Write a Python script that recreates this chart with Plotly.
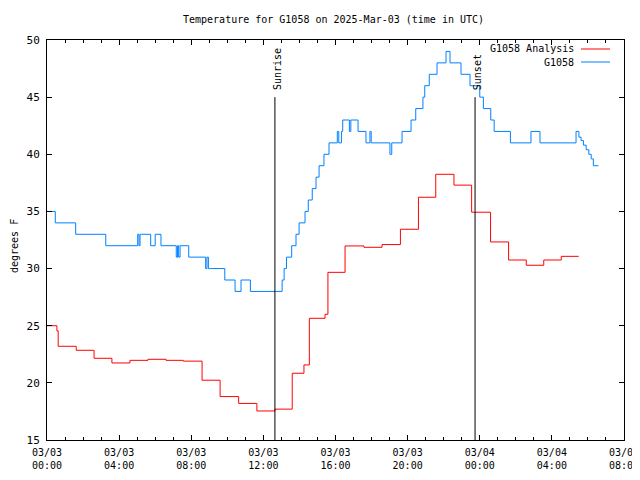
import pandas as pd
import plotly.graph_objects as go

# ---- data (hours after 2025-03-03 00:00 UTC, values in degrees F) ----
obs_hours = [0.0, 0.46, 1.59, 3.26, 5.03, 5.10, 5.16, 5.25, 5.75, 6.00, 6.32,
             7.17, 7.24, 7.30, 7.38, 7.86, 8.80, 8.87, 8.95, 9.06, 9.86, 10.43,
             10.76, 11.28, 13.04, 13.15, 13.28, 13.57, 13.81, 13.98, 14.31,
             14.49, 14.71, 14.92, 15.09, 15.36, 15.64, 16.10, 16.18, 16.33,
             16.40, 16.77, 16.85, 17.25, 17.69, 17.91, 17.98, 19.02, 19.12,
             19.69, 20.19, 20.45, 20.85, 20.95, 21.20, 21.63, 22.13, 22.35,
             22.96, 23.46, 24.00, 24.20, 24.61, 24.80, 25.70, 26.84, 27.34,
             29.34, 29.50, 29.62, 29.75, 29.90, 30.05, 30.18, 30.30, 30.58]
obs_values = [35, 34, 33, 32, 33, 32, 33, 33, 32, 33, 32,
              31, 32, 31, 32, 31, 30, 31, 30, 30, 29, 28,
              29, 28, 29, 30, 31, 32, 33, 34, 35,
              36, 37, 38, 39, 40, 41, 42, 41, 42,
              43, 42, 43, 42, 41, 42, 41, 40, 41,
              42, 43, 44, 45, 46, 47, 48, 49, 48,
              47, 46, 45, 44, 43, 42, 41, 42, 41,
              42, 41.5, 41.2, 40.8, 40.4, 40.0, 39.6, 39, 39]

ana_hours = [0.0, 0.55, 0.62, 1.62, 2.61, 3.60, 4.60, 5.60, 6.60, 7.56, 8.60,
             9.60, 10.63, 11.64, 12.64, 13.60, 14.25, 14.55, 15.42, 15.58,
             16.53, 17.58, 18.58, 19.60, 20.60, 21.56, 22.57, 23.55, 24.60,
             25.60, 26.58, 27.55, 28.52, 29.49]
ana_values = [25.0, 24.55, 23.2, 22.85, 22.15, 21.74, 21.97, 22.06, 21.97, 21.9, 20.23,
              18.8, 18.2, 17.54, 17.7, 20.84, 21.57, 25.65, 26.0, 29.67,
              31.98, 31.86, 32.1, 33.44, 36.24, 38.25, 37.3, 34.93, 32.33,
              30.75, 30.29, 30.75, 31.07, 31.07]

sun_hours = [12.64, 23.74]
sun_labels = ["Sunrise", "Sunset"]
sun_top = 45

start = pd.Timestamp("2025-03-03 00:00")
x_end = pd.Timestamp("2025-03-04 08:00")
tick_vals = pd.date_range(start, x_end, freq="4h")
tick_text = ["03/03<br>00:00", "03/03<br>04:00", "03/03<br>08:00", "03/03<br>12:00",
             "03/03<br>16:00", "03/03<br>20:00", "03/04<br>00:00", "03/04<br>04:00",
             "03/04<br>08:00"]
y_ticks = [15, 20, 25, 30, 35, 40, 45, 50]
series_names = ["G1058 Analysis", "G1058"]
series_colors = ["#ff0000", "#0080ff"]

FONT = "DejaVu Sans Mono"
OFF = 8                      # page body margin offset
SL, ST, SR, SB = 47, 40, 624, 440   # plot box in screen pixels
L, T = SL - OFF, ST - OFF
R, B = 640 - (SR - OFF), 480 - (SB - OFF)
PW, PH = SR - SL, SB - ST

def to_time(hours):
    return [start + pd.Timedelta(hours=h) for h in hours]

fig = go.Figure()
fig.add_trace(go.Scatter(x=to_time(ana_hours), y=ana_values, mode="lines",
                         line=dict(color=series_colors[0], width=1, shape="hv"),
                         name=series_names[0], showlegend=False))
fig.add_trace(go.Scatter(x=to_time(obs_hours), y=obs_values, mode="lines",
                         line=dict(color=series_colors[1], width=1, shape="hv"),
                         name=series_names[1], showlegend=False))

for h, lab in zip(sun_hours, sun_labels):
    t = start + pd.Timedelta(hours=h)
    fig.add_shape(type="line", x0=t, x1=t, y0=15, y1=sun_top, xref="x", yref="y",
                  line=dict(color="black", width=1))
    fig.add_annotation(x=t, y=sun_top, xref="x", yref="y", text=lab, textangle=-90,
                       showarrow=False, xanchor="center", yanchor="bottom",
                       xshift=2, yshift=5, font=dict(family=FONT, size=10, color="black"))

# gnuplot-style legend: text right-aligned, sample line on the right
for i, (nm, col) in enumerate(zip(series_names, series_colors)):
    ypx = 49 + 13 * i
    yp = 1 - (ypx - ST) / PH
    fig.add_annotation(x=(576 - SL) / PW, y=yp, xref="paper", yref="paper", text=nm,
                       showarrow=False, xanchor="right", yanchor="middle",
                       font=dict(family=FONT, size=10, color="black"))
    fig.add_shape(type="line", xref="paper", yref="paper",
                  x0=(581 - SL) / PW, x1=(610 - SL) / PW, y0=yp, y1=yp,
                  line=dict(color=col, width=1))

fig.add_annotation(x=0, y=0.5, xref="paper", yref="paper", text="degrees F",
                   textangle=-90, showarrow=False, xanchor="center", yanchor="middle",
                   xshift=-33, yshift=-6, font=dict(family=FONT, size=10, color="black"))

fig.add_annotation(x=(333 - SL) / PW, y=1 + 20 / PH, xref="paper", yref="paper",
                   text="Temperature for G1058 on 2025-Mar-03 (time in UTC)",
                   showarrow=False, xanchor="center", yanchor="middle",
                   font=dict(family=FONT, size=10, color="black"))

fig.update_layout(
    width=640, height=480,
    margin=dict(l=L, r=R, t=T, b=B, autoexpand=False),
    paper_bgcolor="white", plot_bgcolor="white",
    font=dict(family=FONT, size=10, color="black"),
    showlegend=False,
)
fig.update_xaxes(type="date", range=[start, x_end], tickvals=tick_vals, ticktext=tick_text,
                 ticks="inside", ticklen=5, tickcolor="black", tickwidth=1,
                 minor=dict(dtick=3600000, ticks="inside", ticklen=3, tickcolor="black"),
                 showgrid=False, zeroline=False, showline=True, linecolor="black",
                 linewidth=1, mirror="ticks", tickangle=0, automargin=False,
                 ticklabelstandoff=3,
                 tickfont=dict(family=FONT, size=10, color="black"))
fig.update_yaxes(range=[15, 50], tickvals=y_ticks,
                 ticks="inside", ticklen=5, tickcolor="black", tickwidth=1,
                 showgrid=False, zeroline=False, showline=True, linecolor="black",
                 linewidth=1, mirror="ticks", ticklabelstandoff=4, automargin=False,
                 tickfont=dict(family=FONT, size=11, color="black"))

fig.write_html("out.html")
